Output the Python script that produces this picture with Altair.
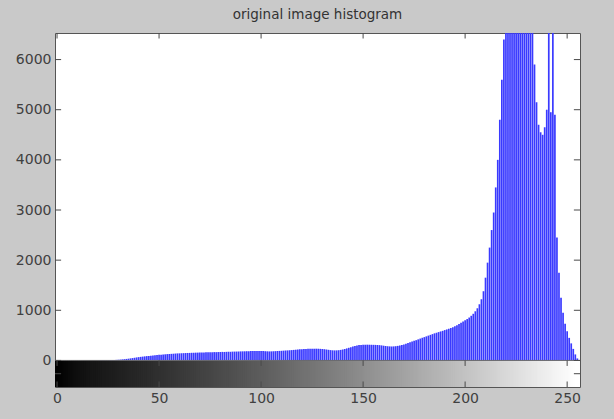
import altair as alt
import pandas as pd

# gray levels 0..255 and their pixel counts
levels = list(range(256))
counts = [
    0, 0, 0, 0, 0, 0, 0, 0, 0, 0,
    0, 0, 0, 0, 0, 0, 0, 1, 1, 1,
    2, 2, 3, 3, 4, 5, 6, 7, 9, 11,
    14, 17, 21, 25, 30, 35, 41, 47, 53, 60,
    66, 71, 76, 81, 86, 90, 94, 98, 102, 108,
    112, 115, 119, 122, 126, 128, 131, 134, 137, 140,
    141, 143, 145, 147, 149, 150, 152, 153, 155, 156,
    157, 159, 158, 161, 162, 163, 164, 166, 165, 167,
    168, 170, 169, 171, 173, 172, 175, 176, 177, 178,
    180, 181, 182, 184, 183, 186, 187, 188, 190, 189,
    188, 186, 184, 182, 180, 181, 183, 185, 188, 190,
    192, 195, 198, 200, 203, 206, 210, 214, 218, 222,
    225, 228, 230, 232, 233, 234, 235, 234, 233, 231,
    228, 224, 218, 212, 206, 202, 200, 201, 204, 210,
    218, 228, 240, 252, 265, 278, 290, 300, 306, 310,
    312, 313, 314, 313, 312, 311, 310, 308, 305, 300,
    294, 288, 283, 280, 278, 280, 284, 290, 298, 308,
    320, 334, 348, 362, 376, 390, 404, 420, 436, 452,
    465, 480, 495, 510, 525, 540, 552, 565, 578, 590,
    605, 618, 632, 646, 660, 680, 700, 725, 750, 775,
    800, 825, 855, 890, 930, 980, 1040, 1120, 1220, 1380,
    1650, 1950, 2250, 2600, 2950, 3450, 4000, 4800, 5600, 6400,
    6900, 7400, 7900, 8300, 8600, 8800, 8900, 8800, 8600, 8300,
    7900, 7400, 6900, 6700, 5900, 5150, 4700, 4550, 4500, 4650,
    5000, 7000, 4950, 7000, 4900, 2450, 1750, 1250, 950, 730,
    580, 450, 340, 230, 120, 40,
]
x_ticks = [0, 50, 100, 150, 200, 250]
y_ticks = [0, 1000, 2000, 3000, 4000, 5000, 6000]
cb_ticks = [-265]

X_MIN, X_MAX = -1, 256.3
Y_MIN, Y_MAX = -530, 6530

hist = pd.DataFrame({"level": levels, "count": counts})
xt = pd.DataFrame({"t": x_ticks})
yt = pd.DataFrame({"t": y_ticks + cb_ticks})
edge = pd.DataFrame({"a": [X_MIN], "b": [X_MAX], "z": [0]})

xscale = alt.Scale(domain=[X_MIN, X_MAX], nice=False, zero=False)
yscale = alt.Scale(domain=[Y_MIN, Y_MAX], nice=False, zero=False)

lab = dict(labelFont="DejaVu Sans", labelFontSize=14, labelColor="#404040",
           tickSize=0, domain=False, grid=False, title=None)

xaxis = alt.Axis(values=x_ticks, labelPadding=4, format="d", **lab)
yaxis = alt.Axis(values=y_ticks, labelPadding=4, format="d", **lab)


def X(field):
    return alt.X(field, scale=xscale, axis=xaxis)


def Y(field):
    return alt.Y(field, scale=yscale, axis=yaxis)


# grayscale colour bar below zero
colorbar = alt.Chart(hist).transform_calculate(
    x0="datum.level - 1", x1="datum.level + 1.3", y0=str(Y_MIN), y1="0"
).mark_rect().encode(
    x=X("x0:Q"), x2="x1:Q",
    y=Y("y0:Q"), y2="y1:Q",
    color=alt.Color("level:Q", scale=alt.Scale(domain=[0, 255], range=["#000000", "#ffffff"]), legend=None),
)

stems = alt.Chart(hist).transform_calculate(base="0").mark_rule(
    color="#3a3aff", strokeWidth=1.7, clip=True
).encode(
    x=X("level:Q"),
    y=Y("base:Q"),
    y2="count:Q",
)

zero_line = alt.Chart(edge).mark_rule(color="#6a6a6a", strokeWidth=1).encode(
    x=X("a:Q"), x2="b:Q", y=Y("z:Q"),
)

tick_col = "#4a4a4a"


def xtick_layer(y_from, y_to):
    return alt.Chart(xt).transform_calculate(
        ya=str(y_from), yb=str(y_to)
    ).mark_rule(color=tick_col).encode(
        x=X("t:Q"), y=Y("ya:Q"), y2="yb:Q")


def ytick_layer(x_from, x_to):
    return alt.Chart(yt).transform_calculate(
        xa=str(x_from), xb=str(x_to)
    ).mark_rule(color=tick_col).encode(
        y=Y("t:Q"), x=X("xa:Q"), x2="xb:Q")


chart = alt.layer(
    colorbar, stems, zero_line,
    xtick_layer(Y_MAX, Y_MAX - 110),
    xtick_layer(0, -110),
    xtick_layer(Y_MIN, Y_MIN + 110),
    ytick_layer(X_MIN, X_MIN + 3),
    ytick_layer(X_MAX, X_MAX - 3),
).properties(
    width=525,
    height=354,
    title=alt.TitleParams("original image histogram", font="DejaVu Sans", fontSize=13.5,
                          fontWeight="normal", color="#333333", offset=11, anchor="middle"),
    autosize=alt.AutoSizeParams(type="none"),
    padding={"left": 55, "top": 33, "right": 34, "bottom": 32},
    background="#c9c9c9",
).configure_view(
    stroke="#555555", strokeWidth=1, fill="white"
)

chart.save("out.html", embed_options={"renderer": "svg", "actions": False})
